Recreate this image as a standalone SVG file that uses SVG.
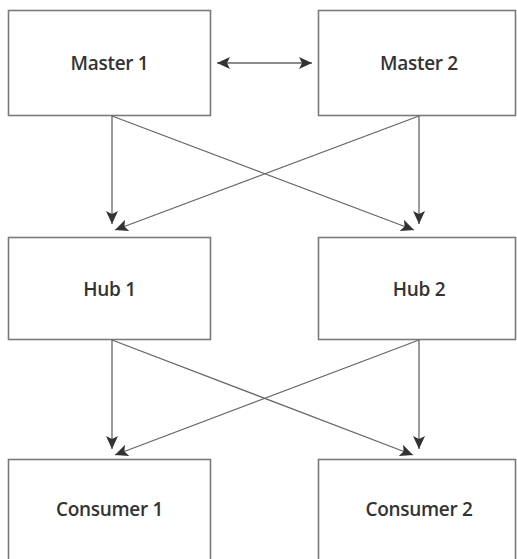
<svg xmlns="http://www.w3.org/2000/svg" width="517" height="559" viewBox="0 0 517 559">
<style>
.box{fill:#fff;stroke:#7a7a7a;stroke-width:1.6}
.lbl{font-family:"Open Sans",sans-serif;font-weight:600;font-size:19px;fill:#333;text-anchor:middle;letter-spacing:-0.3px}
.ln{stroke:#666;stroke-width:1.3;fill:none;marker-end:url(#ah)}
</style>
<defs>
<marker id="ah" markerWidth="14" markerHeight="12" refX="13" refY="6" orient="auto-start-reverse" markerUnits="userSpaceOnUse">
<path d="M0,0 L13,6 L0,12 L3,6 Z" fill="#333"/>
</marker>
</defs>
<rect width="517" height="559" fill="#fff"/>
<g id="master1"><rect class="box" x="8.5" y="10.5" width="202" height="105"/><text class="lbl" x="109.5" y="70">Master 1</text></g>
<g id="master2"><rect class="box" x="318.5" y="10.5" width="197" height="105"/><text class="lbl" x="419" y="70">Master 2</text></g>
<g id="hub1"><rect class="box" x="8.5" y="237.5" width="202" height="102"/><text class="lbl" x="109.5" y="296">Hub 1</text></g>
<g id="hub2"><rect class="box" x="318.5" y="237.5" width="197" height="102"/><text class="lbl" x="419" y="296">Hub 2</text></g>
<g id="consumer1"><rect class="box" x="8.5" y="459.5" width="202" height="110"/><text class="lbl" x="109.5" y="516">Consumer 1</text></g>
<g id="consumer2"><rect class="box" x="318.5" y="459.5" width="197" height="110"/><text class="lbl" x="419" y="516">Consumer 2</text></g>
<g id="connectors">
<path class="ln" d="M217,63 L312,63" style="marker-start:url(#ah)"/>
<path class="ln" d="M112,116 L112,224"/>
<path class="ln" d="M112,116 L414,230"/>
<path class="ln" d="M419,116 L115,230"/>
<path class="ln" d="M419,116 L419,224"/>
<path class="ln" d="M112,340 L112,449"/>
<path class="ln" d="M112,340 L413,455"/>
<path class="ln" d="M419,340 L115,455"/>
<path class="ln" d="M419,340 L419,449"/>
</g>
</svg>
